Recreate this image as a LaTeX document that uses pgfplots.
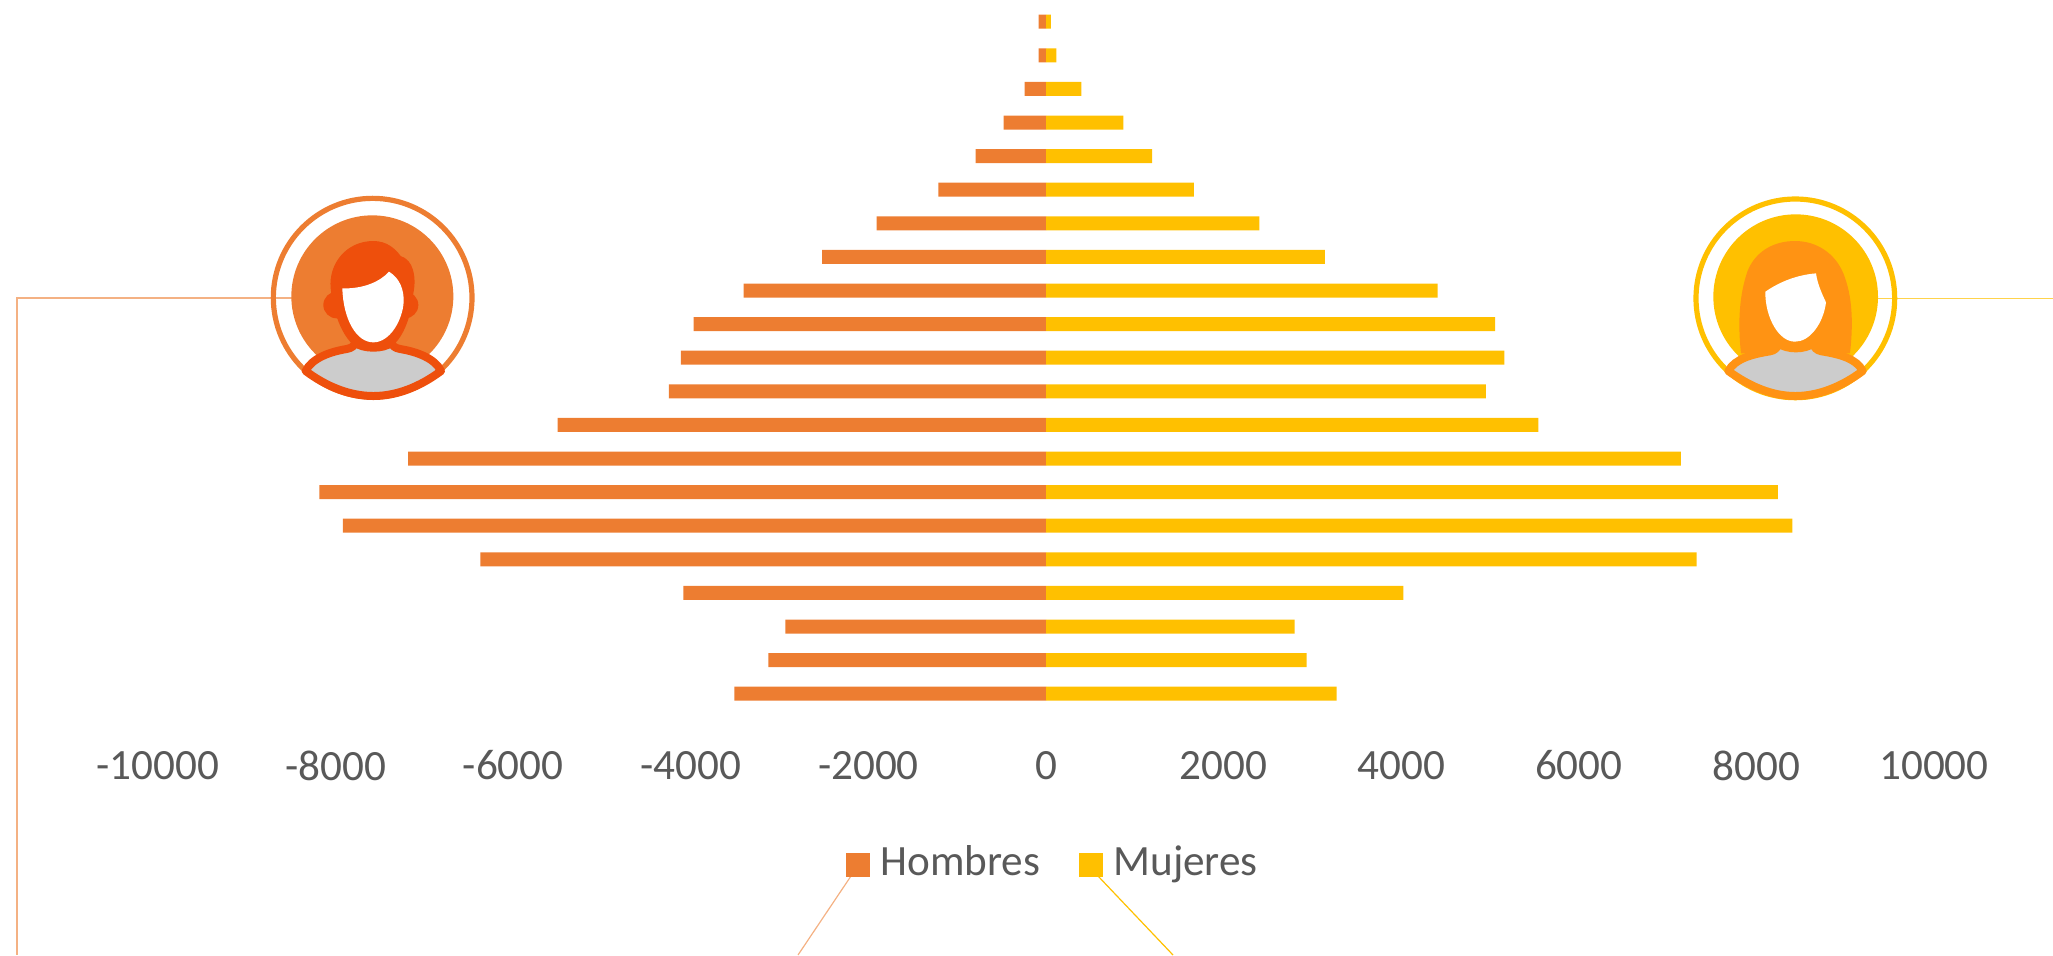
\documentclass[border=0pt]{standalone}
\usepackage{pgfplots}
\usepackage{pgfplotstable}
\usepackage{fontspec}
\setmainfont{Carlito}
\pgfplotsset{compat=1.18}
\definecolor{hom}{HTML}{ED7D31}
\definecolor{muj}{HTML}{FFC000}
\definecolor{homd}{HTML}{EE4F0C}
\definecolor{mujd}{HTML}{FF9313}
\definecolor{txt}{HTML}{595959}
\definecolor{body}{HTML}{CCCCCC}
\pgfplotstableread{
row hombres mujeres
21 -83 56
20 -83 116
19 -240 398
18 -477 870
17 -792 1194
16 -1213 1666
15 -1907 2403
14 -2521 3140
13 -3406 4409
12 -3967 5058
11 -4113 5161
10 -4247 4954
9 -5500 5544
8 -7182 7150
7 -8183 8241
6 -7918 8404
5 -6370 7327
4 -4085 4025
3 -2935 2800
2 -3126 2935
1 -3510 3273
}\pyramid
\begin{document}
\begin{tikzpicture}[x=0.5pt,y=-0.5pt]
\path[use as bounding box] (0,0) rectangle (2053,955);
\clip (0,0) rectangle (2053,955);
\coordinate (A) at (158,710.5);
% leader lines
\draw[color=hom!60,line width=0.7pt] (292,298) -- (17,298) -- (17,955);
\draw[color=muj!70,line width=0.7pt] (1878,298.7) -- (2053,298.7);
\draw[color=hom!60,line width=0.6pt] (851,876) -- (798,955);
\draw[color=muj,line width=0.6pt] (1098,876) -- (1173,955);
% male icon
\begin{scope}[shift={(240,170)},x=0.16667pt,y=-0.16667pt]
\draw[hom,line width=2.6pt] (398,383) circle[radius=298];
\fill[hom] (397,379) circle[radius=243];
\fill[homd] (290,405) circle[radius=40];
\fill[homd] (495,405) circle[radius=40];
\fill[homd] (272,355) .. controls (265,280) and (320,213) .. (400,213)
  .. controls (440,213) and (465,235) .. (482,258)
  .. controls (520,270) and (530,320) .. (520,370)
  .. controls (515,430) and (495,490) .. (465,520)
  .. controls (440,545) and (360,545) .. (335,520)
  .. controls (305,490) and (280,430) .. cycle;
\fill[white] (307,355) .. controls (370,357) and (420,335) .. (447,305)
  .. controls (480,325) and (492,360) .. (491,395)
  .. controls (488,450) and (450,517) .. (400,517)
  .. controls (350,517) and (310,450) .. cycle;
\filldraw[fill=body,draw=homd,line width=4pt,line join=round]
  (197,603) .. controls (215,565) and (270,545) .. (320,537)
  .. controls (335,534) and (343,528) .. (345,518)
  .. controls (370,538) and (430,538) .. (455,518)
  .. controls (457,528) and (465,534) .. (480,537)
  .. controls (530,545) and (585,565) .. (603,603)
  .. controls (540,650) and (470,678) .. (400,678)
  .. controls (330,678) and (260,650) .. cycle;
\end{scope}
% female icon
\begin{scope}[shift={(1660,170)},x=0.16667pt,y=-0.16667pt]
\draw[muj,line width=2.6pt] (406,385) circle[radius=298];
\fill[muj] (407,380) circle[radius=247];
\fill[mujd] (243,550) .. controls (232,450) and (240,370) .. (262,305)
  .. controls (285,245) and (340,213) .. (405,213)
  .. controls (470,213) and (525,250) .. (550,310)
  .. controls (578,380) and (580,460) .. (570,550) -- cycle;
\fill[white] (316,365) .. controls (360,335) and (410,315) .. (468,310)
  .. controls (472,340) and (485,370) .. (498,397)
  .. controls (490,460) and (450,515) .. (405,515)
  .. controls (355,515) and (315,440) .. cycle;
\filldraw[fill=body,draw=mujd,line width=4pt,line join=round]
  (205,603) .. controls (225,565) and (280,552) .. (330,544)
  .. controls (345,541) and (353,533) .. (355,520)
  .. controls (380,540) and (435,540) .. (460,520)
  .. controls (462,533) and (470,541) .. (485,544)
  .. controls (535,552) and (590,565) .. (608,603)
  .. controls (545,650) and (475,678) .. (406,678)
  .. controls (337,678) and (270,650) .. cycle;
\end{scope}
\begin{axis}[
  at={(A)},anchor=south west,
  scale only axis,width=888pt,height=352.8pt,
  xmin=-10000,xmax=10000,ymin=0.5,ymax=21.5,
  axis line style={draw=none},tick style={draw=none},
  scaled x ticks=false,
  xtick={-10000,-8000,-6000,-4000,-2000,0,2000,4000,6000,8000,10000},
  xticklabels={-10000,-8000,-6000,-4000,-2000,0,2000,4000,6000,8000,10000},
  ytick=\empty,
  xticklabel style={font=\fontsize{21.6}{22}\selectfont,text=txt,anchor=center,yshift=-27.5pt},
  xbar,bar width=7pt,bar shift=0pt,
  legend columns=2,
  legend style={at={(0.5044,-0.215)},anchor=center,draw=none,fill=none,
    font=\fontsize{21.6}{22}\selectfont,text=txt,
    /tikz/every even column/.append style={column sep=17.3pt}},
  legend image code/.code={\fill[#1] (0pt,-7.3pt) rectangle (12pt,4.7pt);\path (15.3pt,0pt);},
]
\addplot[draw=none,fill=hom] table[x=hombres,y=row]{\pyramid};
\addlegendentry{Hombres}
\addplot[draw=none,fill=muj] table[x=mujeres,y=row]{\pyramid};
\addlegendentry{Mujeres}
\end{axis}
\end{tikzpicture}
\end{document}
